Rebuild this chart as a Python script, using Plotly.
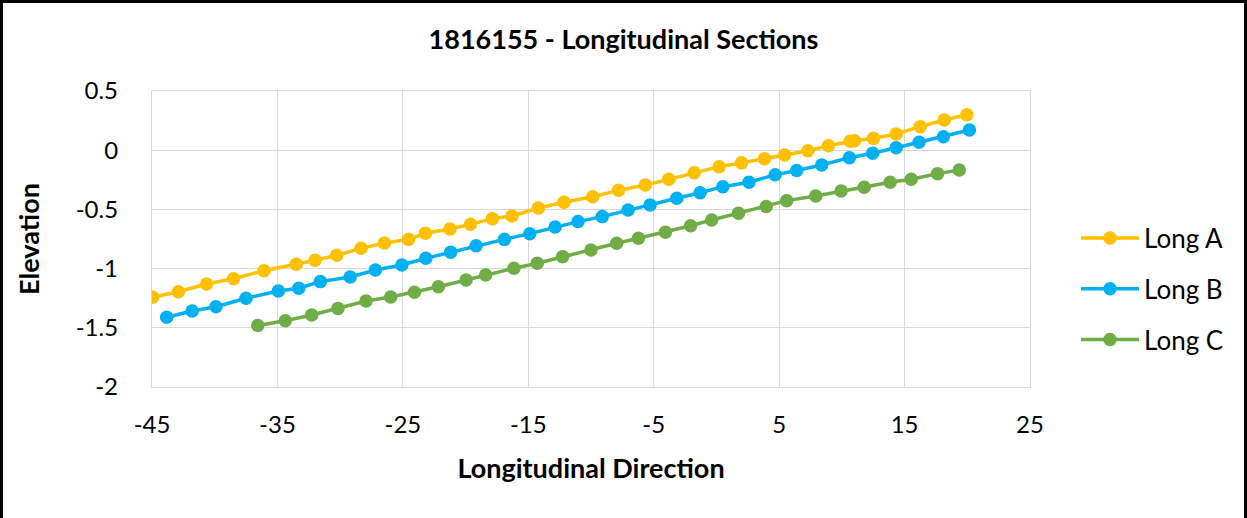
import plotly.graph_objects as go

# Long A
a_x = [-44.95, -42.9, -40.65, -38.5, -36.07, -33.5, -32.0, -30.27, -28.33, -26.47, -24.55, -23.2,
       -21.24, -19.6, -17.86, -16.3, -14.2, -12.15, -9.86, -7.8, -5.67, -3.8, -1.78, 0.22, 2.0,
       3.83, 5.43, 7.29, 8.93, 10.66, 11.0, 12.52, 14.33, 16.25, 18.16, 19.96]
a_y = [-1.242, -1.195, -1.13, -1.085, -1.018, -0.964, -0.93, -0.888, -0.829, -0.784, -0.753, -0.702,
       -0.666, -0.626, -0.578, -0.556, -0.488, -0.44, -0.393, -0.339, -0.294, -0.246, -0.19, -0.139, -0.107,
       -0.072, -0.041, -0.004, 0.038, 0.076, 0.08, 0.1, 0.137, 0.199, 0.255, 0.30]

# Long B
b_x = [-43.83, -41.8, -39.9, -37.5, -34.93, -33.3, -31.58, -29.2, -27.19, -25.08, -23.17,
       -21.19, -19.16, -16.9, -14.88, -12.86, -11.03, -9.1, -7.04, -5.29, -3.16, -1.3, 0.51,
       2.6, 4.68, 6.4, 8.39, 10.6, 12.46, 14.33, 16.16, 18.1, 20.17]
b_y = [-1.411, -1.358, -1.322, -1.251, -1.189, -1.166, -1.11, -1.071, -1.012, -0.97, -0.913,
       -0.862, -0.807, -0.753, -0.705, -0.649, -0.603, -0.561, -0.505, -0.463, -0.406, -0.359, -0.308,
       -0.27, -0.208, -0.172, -0.125, -0.063, -0.026, 0.021, 0.067, 0.114, 0.171]

# Long C
c_x = [-36.57, -34.37, -32.27, -30.17, -27.94, -25.97, -24.08, -22.17, -19.96, -18.4, -16.14,
       -14.28, -12.26, -10.0, -7.95, -6.22, -4.07, -2.06, -0.38, 1.76, 3.97, 5.6, 7.92, 9.94,
       11.78, 13.85, 15.53, 17.63, 19.36]
c_y = [-1.48, -1.44, -1.392, -1.336, -1.274, -1.24, -1.2, -1.153, -1.096, -1.054, -0.997,
       -0.955, -0.899, -0.843, -0.786, -0.744, -0.693, -0.638, -0.589, -0.533, -0.476, -0.426, -0.386, -0.345,
       -0.313, -0.27, -0.245, -0.198, -0.167]

x_ticks = [-45, -35, -25, -15, -5, 5, 15, 25]
x_ticktext = ["-45", "-35", "-25", "-15", "-5", "5", "15", "25"]
y_ticks = [0.5, 0, -0.5, -1, -1.5, -2]
y_ticktext = ["0.5", "0", "-0.5", "-1", "-1.5", "-2"]

series = [
    ("Long A", a_x, a_y, "#FFC000"),
    ("Long B", b_x, b_y, "#00B0F0"),
    ("Long C", c_x, c_y, "#70AD47"),
]

FONT = "Lato"
W, H = 1247, 518
L, R, T, B = 152, 217, 91, 131
PW, PH = W - L - R, H - T - B

fig = go.Figure()
for name, xs, ys, col in series:
    fig.add_trace(go.Scatter(
        x=xs, y=ys, name=name, mode="lines+markers", legendgroup=name,
        line=dict(color=col, width=3.5),
        marker=dict(color=col, size=13.5),
    ))

fig.update_layout(
    width=W, height=H,
    paper_bgcolor="white", plot_bgcolor="white",
    margin=dict(l=L, r=R, t=T, b=B, autoexpand=False),
    font=dict(family=FONT, color="black", size=24),
    title=dict(text="<b>1816155 - Longitudinal Sections</b>", x=0.5, xanchor="center",
               xref="container", y=1 - 40 / H, yanchor="middle",
               font=dict(size=27, family=FONT)),
    legend=dict(x=(1076 - L) / PW, y=(H - B - 289) / PH,
                xanchor="left", yanchor="middle",
                font=dict(size=26, family=FONT), traceorder="grouped",
                tracegroupgap=14, itemwidth=58, bgcolor="rgba(0,0,0,0)"),
    showlegend=True,
    shapes=[dict(type="rect", xref="paper", yref="paper",
                 x0=(1.5 - L) / PW, x1=(1245.5 - L) / PW,
                 y0=-(B + 20) / PH, y1=(H - B - 1.5) / PH,
                 line=dict(color="black", width=3), fillcolor="rgba(0,0,0,0)", layer="below")],
)
fig.update_xaxes(
    range=[-45, 25], tickvals=x_ticks, ticktext=x_ticktext,
    showgrid=True, gridcolor="#D9D9D9", gridwidth=1.3,
    showline=True, linecolor="#D9D9D9", linewidth=1.3, mirror=True, zeroline=False,
    ticks="", ticklabelstandoff=16,
    title=dict(text="<b>Longitudinal Direction</b>", font=dict(size=27, family=FONT), standoff=22),
)
fig.update_yaxes(
    range=[-2, 0.5], tickvals=y_ticks, ticktext=y_ticktext,
    showgrid=True, gridcolor="#D9D9D9", gridwidth=1.3,
    showline=True, linecolor="#D9D9D9", linewidth=1.3, mirror=True, zeroline=False,
    ticks="", ticklabelstandoff=28,
    title=dict(text="<b>Elevation</b>", font=dict(size=27, family=FONT), standoff=28),
)

fig.write_html("out.html", config={"displayModeBar": False},
               post_script="document.body.style.margin='0';document.body.style.overflow='hidden';")
